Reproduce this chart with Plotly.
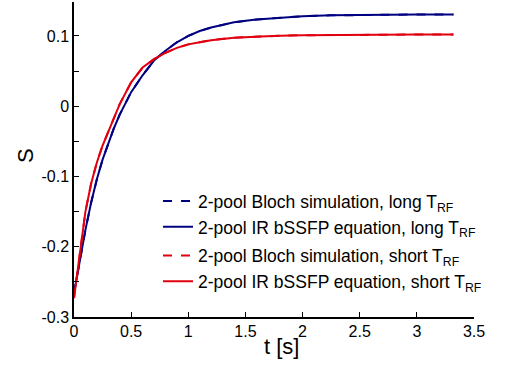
import plotly.graph_objects as go

t = [0, 0.05, 0.1, 0.15, 0.2, 0.25, 0.3, 0.35, 0.4, 0.5, 0.6, 0.7, 0.8, 0.9,
     1.0, 1.1, 1.2, 1.4, 1.6, 1.8, 2.0, 2.25, 2.5, 2.75, 3.0, 3.32]

long_sim = [-0.266, -0.221, -0.176, -0.137, -0.104, -0.076, -0.052, -0.031, -0.012,
            0.020, 0.044, 0.065, 0.079, 0.091, 0.100, 0.107, 0.112, 0.1195, 0.1235,
            0.126, 0.128, 0.1293, 0.1300, 0.1303, 0.1305, 0.1305]
long_eq = [-0.266, -0.221, -0.176, -0.137, -0.104, -0.076, -0.052, -0.031, -0.012,
           0.020, 0.044, 0.065, 0.079, 0.091, 0.100, 0.107, 0.112, 0.1195, 0.1235,
           0.126, 0.128, 0.1293, 0.1300, 0.1303, 0.1305, 0.1305]
short_sim = [-0.273, -0.212, -0.150, -0.110, -0.080, -0.056, -0.036, -0.017, 0.003,
             0.034, 0.055, 0.067, 0.076, 0.083, 0.088, 0.091, 0.094, 0.0975, 0.0993,
             0.1003, 0.101, 0.1015, 0.1018, 0.1019, 0.102, 0.102]
short_eq = [-0.273, -0.212, -0.150, -0.110, -0.080, -0.056, -0.036, -0.017, 0.003,
            0.034, 0.055, 0.067, 0.076, 0.083, 0.088, 0.091, 0.094, 0.0975, 0.0993,
            0.1003, 0.101, 0.1015, 0.1018, 0.1019, 0.102, 0.102]

names = ["2-pool Bloch simulation, long T<sub>RF</sub>",
         "2-pool IR bSSFP equation, long T<sub>RF</sub>",
         "2-pool Bloch simulation, short T<sub>RF</sub>",
         "2-pool IR bSSFP equation, short T<sub>RF</sub>"]

x_ticks = [0, 0.5, 1, 1.5, 2, 2.5, 3, 3.5]
x_tick_text = ["0", "0.5", "1", "1.5", "2", "2.5", "3", "3.5"]
y_ticks = [-0.3, -0.2, -0.1, 0, 0.1]
y_tick_text = ["-0.3", "-0.2", "-0.1", "0", "0.1"]
x_title = "t [s]"
y_title = "S"

BLUE = "#000080"
RED = "#e0000f"

fig = go.Figure()
fig.add_trace(go.Scatter(x=t, y=long_sim, mode="lines", name=names[0], legendgroup="long",
                         line=dict(color=BLUE, width=2, dash="dash")))
fig.add_trace(go.Scatter(x=t, y=long_eq, mode="lines", name=names[1], legendgroup="long",
                         line=dict(color=BLUE, width=2)))
fig.add_trace(go.Scatter(x=t, y=short_sim, mode="lines", name=names[2], legendgroup="short",
                         line=dict(color=RED, width=2, dash="dash")))
fig.add_trace(go.Scatter(x=t, y=short_eq, mode="lines", name=names[3], legendgroup="short",
                         line=dict(color=RED, width=2)))

font_family = "Liberation Sans, Arial, sans-serif"

fig.update_layout(
    width=513, height=373,
    margin=dict(l=74, r=39, t=2, b=56),
    paper_bgcolor="white", plot_bgcolor="white",
    font=dict(family=font_family, color="black", size=16),
    showlegend=True,
    legend=dict(x=0.21, y=0.425, xanchor="left", yanchor="top",
                bgcolor="rgba(0,0,0,0)", font=dict(size=17.5),
                traceorder="grouped", tracegroupgap=3),
    xaxis=dict(range=[0, 3.5], tickvals=x_ticks, ticktext=x_tick_text,
               ticks="inside", ticklen=5, tickcolor="black", tickwidth=1,
               showline=True, linecolor="black", linewidth=1.5,
               showgrid=False, zeroline=False, tickfont=dict(size=16),
               ticklabelstandoff=-1),
    yaxis=dict(range=[-0.3, 0.1483], tickvals=y_ticks, ticktext=y_tick_text,
               ticks="inside", ticklen=5, tickcolor="black", tickwidth=1,
               minor=dict(dtick=0.05, tick0=0, ticks="inside", ticklen=5,
                          tickcolor="black", tickwidth=1, showgrid=False),
               showline=True, linecolor="black", linewidth=1.5,
               showgrid=False, zeroline=False, tickfont=dict(size=16),
               ticklabelstandoff=0),
    annotations=[
        dict(text=x_title, xref="paper", yref="paper", x=0.5175, y=-0.095,
             xanchor="center", yanchor="middle", showarrow=False,
             font=dict(size=22)),
        dict(text=y_title, xref="paper", yref="paper", x=-0.1225, y=0.511,
             xanchor="center", yanchor="middle", showarrow=False, textangle=-90,
             font=dict(size=22)),
    ],
)

fig.write_html("out.html", config={"displayModeBar": False},
               post_script="document.body.style.margin='0';")
